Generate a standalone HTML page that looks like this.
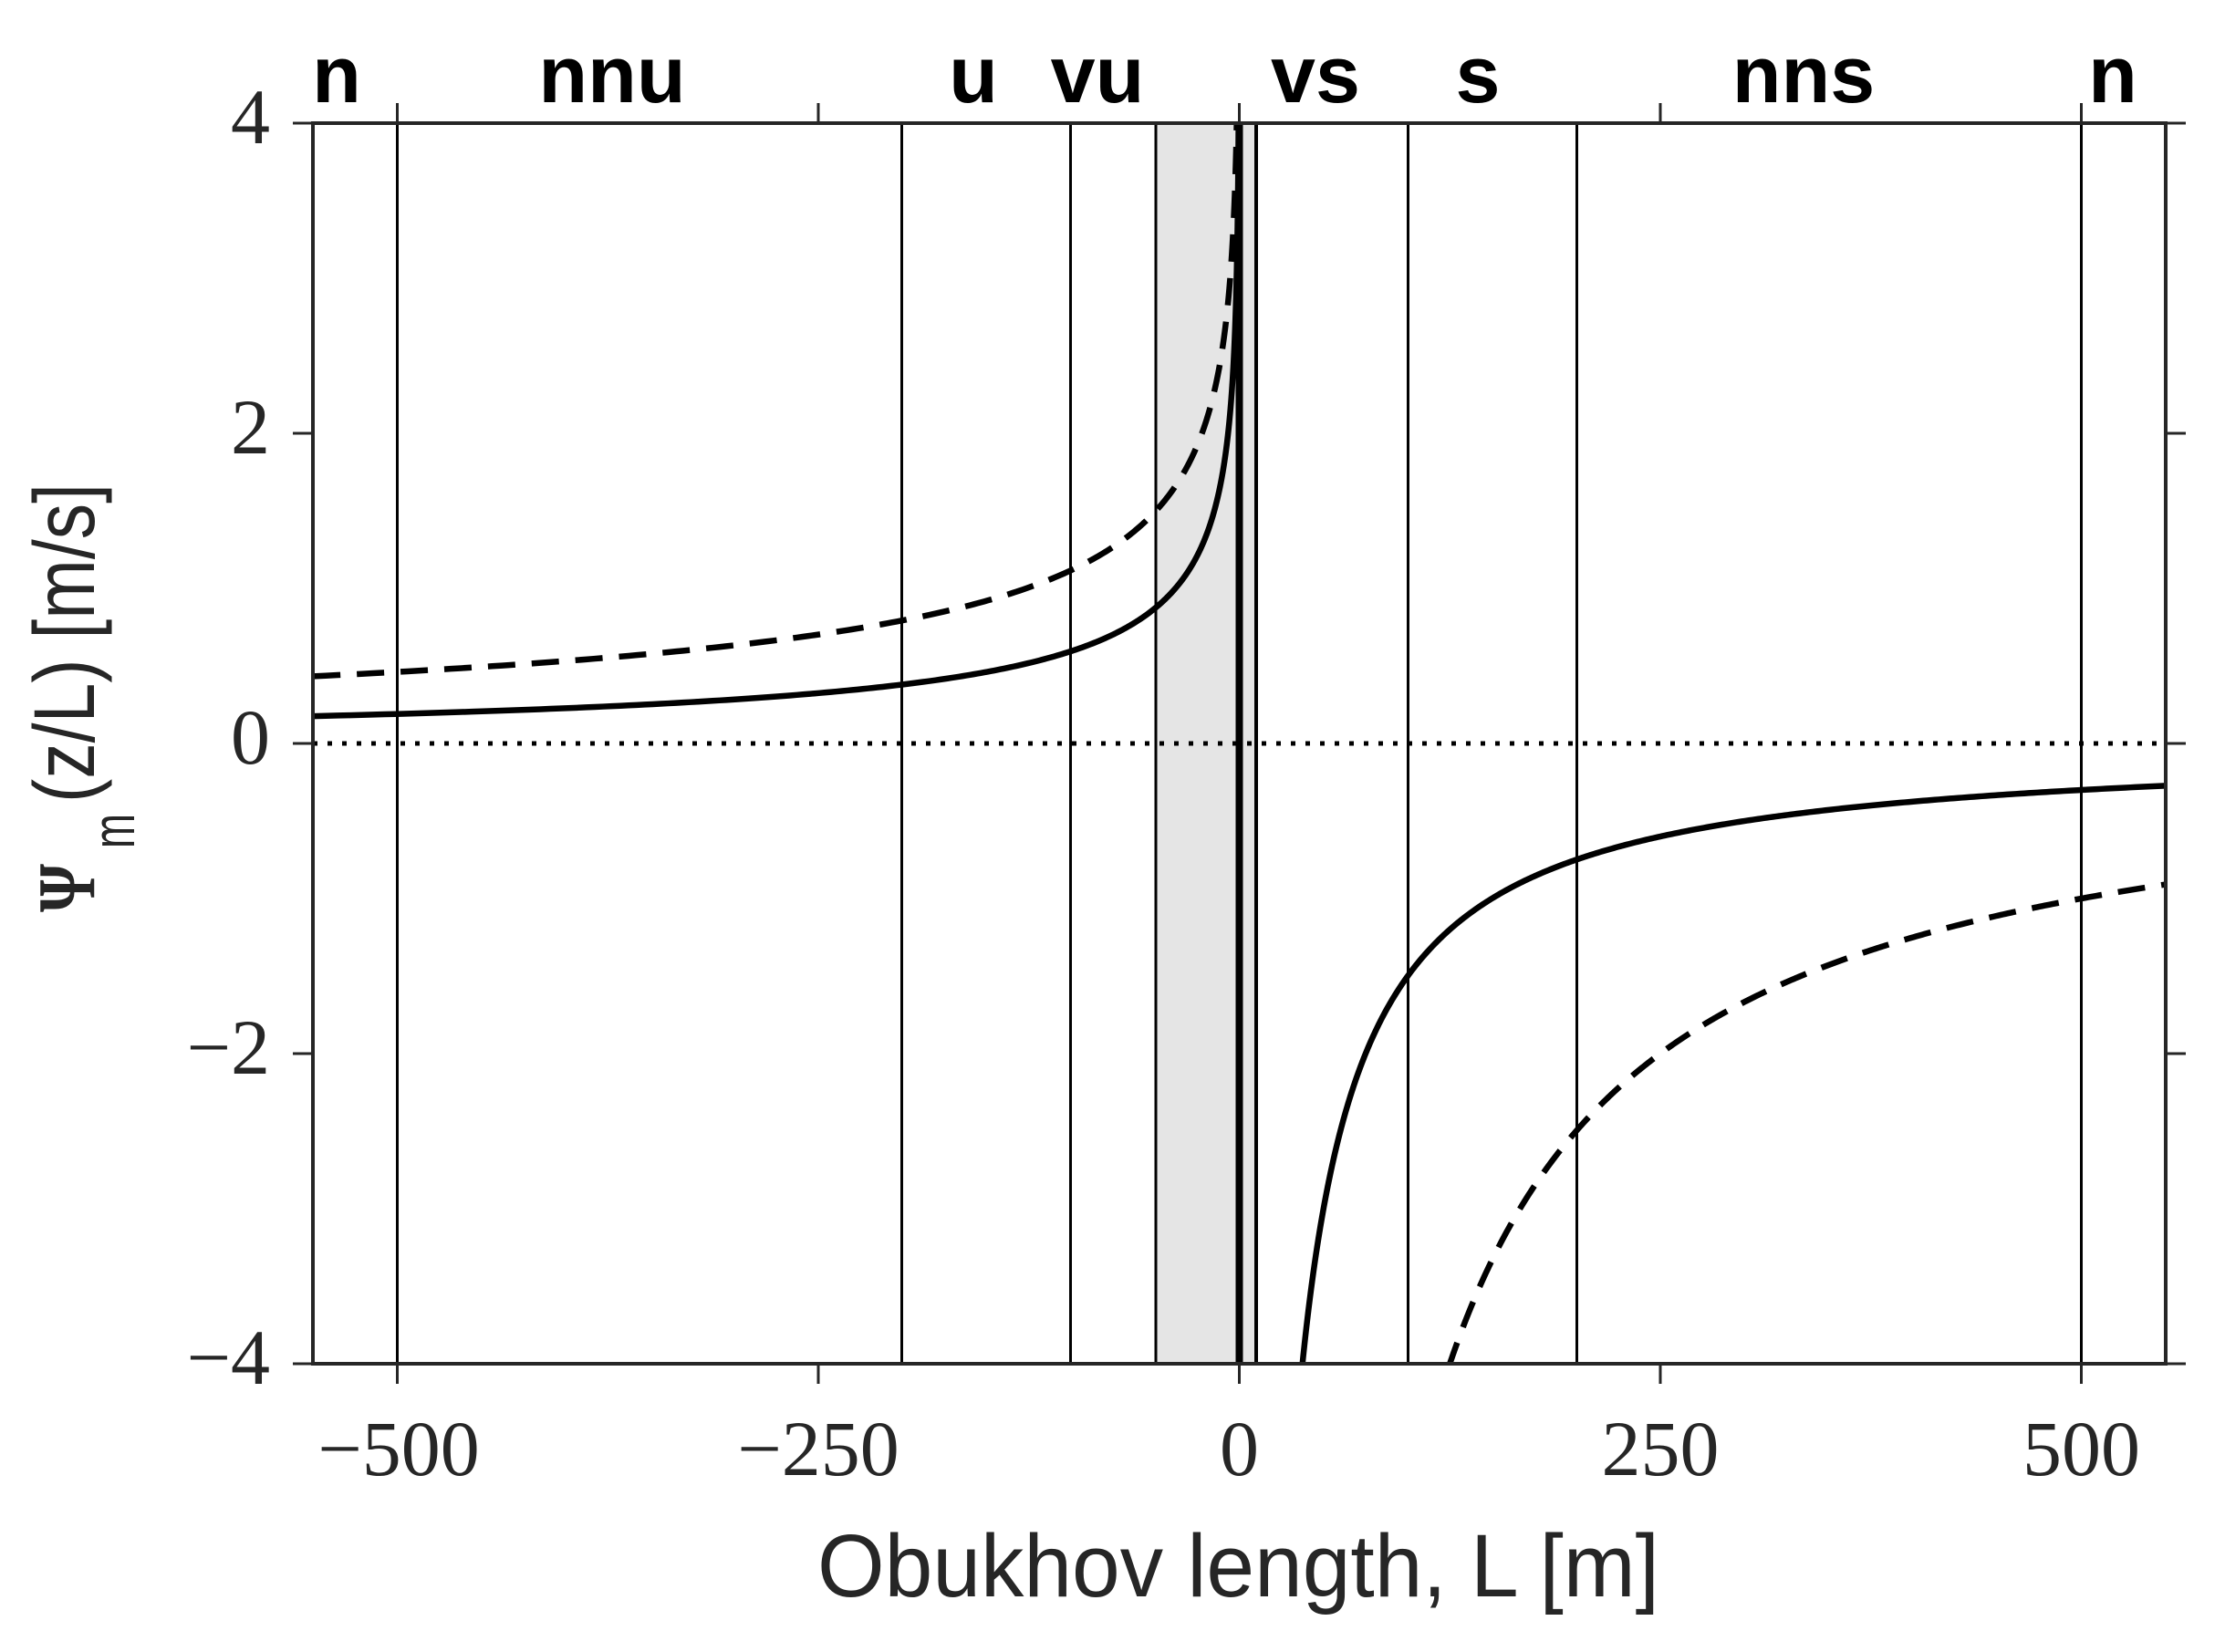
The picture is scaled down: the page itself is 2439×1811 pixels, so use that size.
<!DOCTYPE html>
<html><head><meta charset="utf-8"><style>html,body{margin:0;padding:0;background:#fff}svg{display:block}</style></head>
<body>
<svg id="s" xmlns="http://www.w3.org/2000/svg" width="2439" height="1811" viewBox="0 0 2439 1811">
<rect width="2439" height="1811" fill="#fff"/>
<defs><clipPath id="c"><rect x="343" y="135" width="2031" height="1360"/></clipPath></defs>
<rect x="1267" y="135" width="110" height="1360" fill="#e5e5e5"/>
<g stroke="#000" stroke-width="3">
<line x1="435.5" y1="135" x2="435.5" y2="1495"/>
<line x1="988.5" y1="135" x2="988.5" y2="1495"/>
<line x1="1173.5" y1="135" x2="1173.5" y2="1495"/>
<line x1="1267" y1="135" x2="1267" y2="1495"/>
<line x1="1377" y1="135" x2="1377" y2="1495" stroke-width="4"/>
<line x1="1543.5" y1="135" x2="1543.5" y2="1495"/>
<line x1="1728.5" y1="135" x2="1728.5" y2="1495"/>
<line x1="2281.5" y1="135" x2="2281.5" y2="1495"/>
</g>
<line x1="1358.5" y1="135" x2="1358.5" y2="1495" stroke="#000" stroke-width="8"/>
<line x1="343" y1="815" x2="2374" y2="815" stroke="#000" stroke-width="5" stroke-dasharray="5 11"/>
<g clip-path="url(#c)" fill="none" stroke="#000" stroke-width="6.5">
<path id="p1" d=""/>
<path id="p2" d=""/>
<path id="p3" d="" stroke-dasharray="30 18"/>
<path id="p4" d="" stroke-dasharray="30 18"/>
</g>
<g stroke="#262626" stroke-width="4" fill="none">
<rect x="343" y="135" width="2031" height="1360"/>
</g>
<g stroke="#262626" stroke-width="3">
<line x1="321" y1="135" x2="343" y2="135"/><line x1="321" y1="475" x2="343" y2="475"/><line x1="321" y1="815" x2="343" y2="815"/><line x1="321" y1="1155" x2="343" y2="1155"/><line x1="321" y1="1495" x2="343" y2="1495"/>
<line x1="2374" y1="135" x2="2396" y2="135"/><line x1="2374" y1="475" x2="2396" y2="475"/><line x1="2374" y1="815" x2="2396" y2="815"/><line x1="2374" y1="1155" x2="2396" y2="1155"/><line x1="2374" y1="1495" x2="2396" y2="1495"/>
<line x1="435.5" y1="113" x2="435.5" y2="135"/><line x1="897" y1="113" x2="897" y2="135"/><line x1="1358.5" y1="113" x2="1358.5" y2="135"/><line x1="1820" y1="113" x2="1820" y2="135"/><line x1="2281.5" y1="113" x2="2281.5" y2="135"/>
<line x1="435.5" y1="1495" x2="435.5" y2="1517"/><line x1="897" y1="1495" x2="897" y2="1517"/><line x1="1358.5" y1="1495" x2="1358.5" y2="1517"/><line x1="1820" y1="1495" x2="1820" y2="1517"/><line x1="2281.5" y1="1495" x2="2281.5" y2="1517"/>
</g>
<g font-family="Liberation Serif, serif" font-size="86" fill="#262626">
<g text-anchor="end">
<text x="296" y="157">4</text><text x="296" y="497">2</text><text x="296" y="837">0</text>
<text x="296" y="1177">−2</text><text x="296" y="1517">−4</text>
</g>
<g text-anchor="middle">
<text x="437" y="1617">−500</text><text x="897" y="1617">−250</text><text x="1358.5" y="1617">0</text><text x="1820" y="1617">250</text><text x="2281.5" y="1617">500</text>
</g>
</g>
<g font-family="Liberation Sans, Arial, sans-serif" font-weight="bold" font-size="88" fill="#000" text-anchor="middle">
<text x="369" y="112">n</text><text x="671" y="112">nnu</text><text x="1067" y="112">u</text><text x="1203" y="112">vu</text>
<text x="1442" y="112">vs</text><text x="1620" y="112">s</text><text x="1977" y="112">nns</text><text x="2316" y="112">n</text>
</g>
<text x="896" y="1750" font-family="Liberation Sans, Arial, sans-serif" font-size="97" fill="#262626" textLength="923" lengthAdjust="spacingAndGlyphs">Obukhov length, L [m]</text>
<g transform="translate(103,0) rotate(-90)" fill="#262626">
<text x="-1000" y="0" font-family="Liberation Serif, serif" font-weight="bold" font-size="90" textLength="53" lengthAdjust="spacingAndGlyphs">Ψ</text>
<text x="-930" y="44" font-family="Liberation Sans, Arial, sans-serif" font-size="66" textLength="38" lengthAdjust="spacingAndGlyphs">m</text>
<text x="-880" y="0" font-family="Liberation Sans, Arial, sans-serif" font-size="95" textLength="350" lengthAdjust="spacingAndGlyphs">(z/L) [m/s]</text>
</g>
</svg>
<script>
(function(){
 function X(L){return 1358.5+1.846*L;}
 function Y(v){return 815-170*v;}
 function pu(zl){var x=Math.pow(1-16*zl,0.25);return 2*Math.log((1+x)/2)+Math.log((1+x*x)/2)-2*Math.atan(x)+Math.PI/2;}
 function unstable(z){var d='',first=true;var n=600;
  for(var i=0;i<=n;i++){var f=i/n;var L=-550*Math.pow(10,-f*3.5);var v=pu(z/L);if(v>4.3)v=4.3;
   d+=(first?'M':'L')+X(L).toFixed(2)+' '+Y(v).toFixed(2);first=false;if(v>=4.3)break;}
  return d;}
 function stable(z){var d='',first=true;var L0=z*5/4.3;var n=500;
  for(var i=0;i<=n;i++){var f=i/n;var L=L0*Math.pow(550/L0,f);var v=-5*z/L;
   d+=(first?'M':'L')+X(L).toFixed(2)+' '+Y(v).toFixed(2);first=false;}
  return d;}
 document.getElementById('p1').setAttribute('d',unstable(30));
 document.getElementById('p2').setAttribute('d',stable(30));
 document.getElementById('p3').setAttribute('d',unstable(100));
 document.getElementById('p4').setAttribute('d',stable(100));
})();
</script>
</body></html>
